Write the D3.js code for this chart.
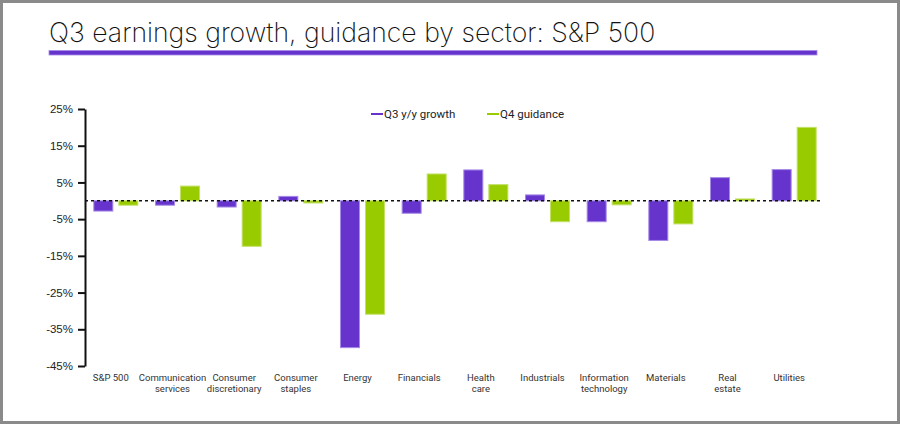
<!DOCTYPE html>
<html>
<head>
<meta charset="utf-8">
<script src="https://cdn.jsdelivr.net/npm/d3@7"></script>
<style>
  body { margin: 0; background: #fff; }
  svg { display: block; font-family: Roboto, "Noto Sans", sans-serif; }
</style>
</head>
<body>
<div id="chart"></div>
<script>
// sectors along the x axis (labels split in two lines)
const sectors = [
    ['S&P 500'],
    ['Communication', 'services'],
    ['Consumer', 'discretionary'],
    ['Consumer', 'staples'],
    ['Energy'],
    ['Financials'],
    ['Health', 'care'],
    ['Industrials'],
    ['Information', 'technology'],
    ['Materials'],
    ['Real', 'estate'],
    ['Utilities']
];
const q3Growth = [-2.8, -1.2, -1.7, 1.2, -40.0, -3.4, 8.4, 1.6, -5.7, -10.8, 6.3, 8.5];
const q4Guidance = [-1.2, 4.0, -12.4, -0.6, -30.9, 7.3, 4.4, -5.7, -1.1, -6.3, 0.5, 20.0];
const yTicks = [25, 15, 5, -5, -15, -25, -35, -45];
const seriesNames = ['Q3 y/y growth', 'Q4 guidance'];

const colors = { 'Q3 y/y growth': '#6633cc', 'Q4 guidance': '#99cc00' };
const strokes = { 'Q3 y/y growth': '#a58ae6', 'Q4 guidance': '#c2e066' };

const width = 900, height = 424;
const margin = { top: 109, right: 75, bottom: 58, left: 85 };

const svg = d3.select('#chart').append('svg')
    .attr('width', width)
    .attr('height', height);

// frame
svg.append('rect')
    .attr('x', 1.5).attr('y', 1.5)
    .attr('width', width - 3).attr('height', height - 3)
    .attr('fill', '#fff')
    .attr('stroke', '#8a8a8a')
    .attr('stroke-width', 3);

// title + rule under it
svg.append('text')
    .attr('x', 49)
    .attr('y', 42)
    .style('font-family', 'Inter, Roboto, sans-serif')
    .style('font-weight', 200)
    .style('font-size', '26.6px')
    .style('fill', '#111')
    .text('Q3 earnings growth, guidance by sector: S&P 500');

svg.append('rect')
    .attr('x', 49).attr('y', 50.5)
    .attr('width', 768).attr('height', 4.5)
    .attr('fill', '#6633cc')
    .attr('stroke', '#a58ae6')
    .attr('stroke-width', 0.8);

const data = sectors.map((s, i) => ({
    key: s.join(' '),
    lines: s,
    'Q3 y/y growth': q3Growth[i],
    'Q4 guidance': q4Guidance[i]
}));

const x0 = d3.scaleBand()
    .domain(data.map(d => d.key))
    .range([margin.left, width - margin.right])
    .paddingInner(0.27)
    .paddingOuter(0.135);

const x1 = d3.scaleBand()
    .domain(seriesNames)
    .range([0, x0.bandwidth()])
    .paddingInner(0.2);

const y = d3.scaleLinear()
    .domain([-45, 25])
    .range([height - margin.bottom, margin.top]);

// y axis
const yAxis = svg.append('g')
    .attr('transform', `translate(${margin.left},0)`)
    .call(d3.axisLeft(y).tickValues(yTicks).tickSize(7).tickSizeOuter(0).tickFormat(d => d + '%'));
yAxis.select('.domain').attr('stroke', '#111').attr('stroke-width', 2);
yAxis.selectAll('.tick line').attr('stroke', '#111').attr('stroke-width', 2);
yAxis.selectAll('.tick text')
    .attr('x', -12)
    .style('font-size', '11.5px')
    .style('fill', '#222');

// bars
const groups = svg.append('g').selectAll('g')
    .data(data)
    .join('g')
    .attr('transform', d => `translate(${x0(d.key)},0)`);

groups.selectAll('rect')
    .data(d => seriesNames.map(name => ({ name, value: d[name] })))
    .join('rect')
    .attr('x', d => x1(d.name) + 0.5)
    .attr('width', x1.bandwidth() - 1)
    .attr('y', d => y(Math.max(0, d.value)))
    .attr('height', d => Math.abs(y(d.value) - y(0)))
    .attr('fill', d => colors[d.name])
    .attr('stroke', d => strokes[d.name])
    .attr('stroke-width', 1);

// zero line, dashed
svg.append('line')
    .attr('x1', margin.left)
    .attr('x2', width - margin.right - 3)
    .attr('y1', y(0))
    .attr('y2', y(0))
    .attr('stroke', '#111')
    .attr('stroke-width', 1.5)
    .attr('stroke-dasharray', '3,3');

// category labels
const labels = svg.append('g').selectAll('text')
    .data(data)
    .join('text')
    .attr('x', d => x0(d.key) + x0.bandwidth() / 2 - 5)
    .attr('y', height - margin.bottom + 15)
    .attr('text-anchor', 'middle')
    .style('font-size', '9.5px')
    .style('fill', '#333');

labels.selectAll('tspan')
    .data(d => d.lines)
    .join('tspan')
    .attr('x', function() { return d3.select(this.parentNode).attr('x'); })
    .attr('dy', (d, i) => i === 0 ? 0 : 11)
    .text(d => d);

// legend
const legend = svg.append('g')
    .attr('transform', 'translate(371,114)');
const legendX = [0, 116];
seriesNames.forEach((name, i) => {
    legend.append('line')
        .attr('x1', legendX[i]).attr('x2', legendX[i] + 12)
        .attr('y1', 0).attr('y2', 0)
        .attr('stroke', colors[name])
        .attr('stroke-width', 2);
    legend.append('text')
        .attr('x', legendX[i] + 13)
        .attr('y', 0)
        .attr('dy', '0.35em')
        .style('font-size', '11.5px')
        .style('fill', '#222')
        .text(name);
});
</script>
</body>
</html>
